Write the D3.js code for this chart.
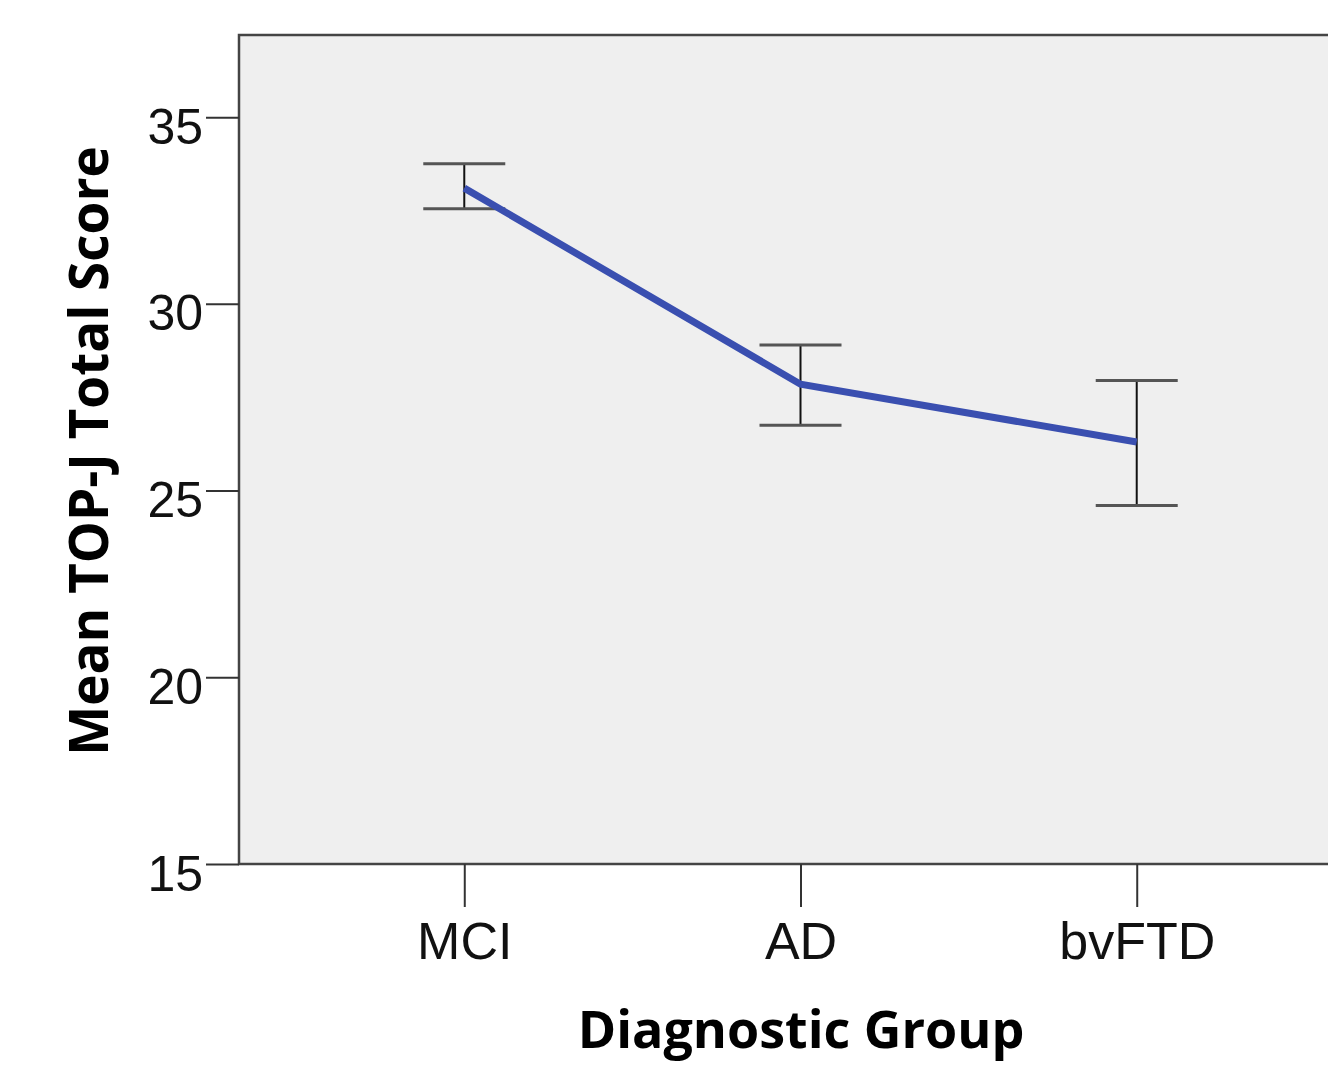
<!DOCTYPE html>
<html>
<head>
<meta charset="utf-8">
<script src="https://cdn.jsdelivr.net/npm/d3@7"></script>
<style>
    body { margin: 0; background: #fff; }
    svg { display: block; }
</style>
</head>
<body>
<div id="chart"></div>
<script>
const groups = ["MCI", "AD", "bvFTD"];
const means = [33.1, 27.85, 26.3];
const upper = [33.75, 28.9, 27.95];
const lower = [32.55, 26.75, 24.6];
const yTicks = [15, 20, 25, 30, 35];

const W = 1328, H = 1066;
const plotLeft = 239, plotTop = 35, plotBottom = 864, plotRight = 1362;

const svg = d3.select("#chart").append("svg")
    .attr("width", W)
    .attr("height", H);

const y = d3.scaleLinear().domain([15, 37.2]).range([plotBottom, plotTop]);
const x = d3.scalePoint().domain(groups).range([plotLeft, plotRight]).padding(0.67);

// plot background + frame
svg.append("rect")
    .attr("x", plotLeft).attr("y", plotTop)
    .attr("width", plotRight - plotLeft).attr("height", plotBottom - plotTop)
    .attr("fill", "#efefef")
    .attr("stroke", "#444")
    .attr("stroke-width", 2.5);

// y axis
const yAxis = svg.append("g")
    .attr("transform", "translate(" + plotLeft + ",0)")
    .call(d3.axisLeft(y).tickValues(yTicks).tickSize(33).tickPadding(3));
yAxis.select(".domain").remove();
yAxis.selectAll(".tick line").attr("stroke", "#333").attr("stroke-width", 2);
yAxis.selectAll(".tick text")
    .attr("font-family", "Liberation Sans, Arial, sans-serif")
    .attr("font-size", 50)
    .attr("fill", "#111")
    .attr("dy", "0.52em");

// x axis
const xAxis = svg.append("g")
    .attr("transform", "translate(0," + plotBottom + ")")
    .call(d3.axisBottom(x).tickSize(43).tickPadding(15));
xAxis.select(".domain").remove();
xAxis.selectAll(".tick line").attr("stroke", "#333").attr("stroke-width", 2);
xAxis.selectAll(".tick text")
    .attr("font-family", "Liberation Sans, Arial, sans-serif")
    .attr("font-size", 52)
    .attr("fill", "#111");

// error bars
const capHalf = 41;
const eb = svg.append("g");
groups.forEach((g, i) => {
    eb.append("line")
        .attr("x1", x(g)).attr("x2", x(g))
        .attr("y1", y(upper[i])).attr("y2", y(lower[i]))
        .attr("stroke", "#111").attr("stroke-width", 2);
    [upper[i], lower[i]].forEach((v) => {
        eb.append("line")
            .attr("x1", x(g) - capHalf).attr("x2", x(g) + capHalf)
            .attr("y1", y(v)).attr("y2", y(v))
            .attr("stroke", "#555").attr("stroke-width", 3);
    });
});

// mean line
const line = d3.line()
    .x((d, i) => x(groups[i]))
    .y((d) => y(d));
svg.append("path")
    .datum(means)
    .attr("d", line)
    .attr("fill", "none")
    .attr("stroke", "#3a4fb0")
    .attr("stroke-width", 7);

// axis titles
svg.append("text")
    .attr("x", 801).attr("y", 1048)
    .attr("text-anchor", "middle")
    .attr("font-family", "Open Sans, Noto Sans, sans-serif")
    .attr("font-weight", "bold")
    .attr("font-size", 52)
    .attr("fill", "#000")
    .text("Diagnostic Group");

svg.append("text")
    .attr("transform", "translate(108,451) rotate(-90)")
    .attr("text-anchor", "middle")
    .attr("font-family", "Open Sans, Noto Sans, sans-serif")
    .attr("font-weight", "bold")
    .attr("font-size", 53)
    .attr("fill", "#000")
    .text("Mean TOP-J Total Score");
</script>
</body>
</html>
